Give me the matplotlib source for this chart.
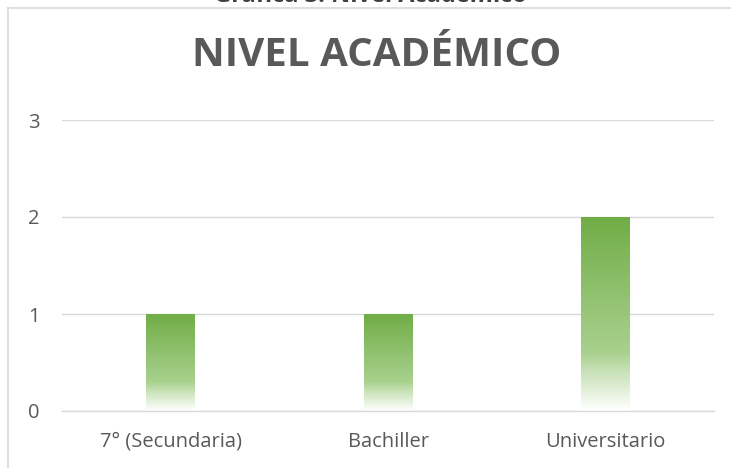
import numpy as np
import matplotlib
matplotlib.use("Agg")
import matplotlib.pyplot as plt
from matplotlib.colors import LinearSegmentedColormap
from matplotlib.lines import Line2D

categories = ["7° (Secundaria)", "Bachiller", "Universitario"]
values = [1, 1, 2]
yticks = [0, 1, 2, 3]
title = "NIVEL ACADÉMICO"
caption = "Gráfica 3: Nivel Académico"

plt.rcParams["font.family"] = ["Open Sans", "DejaVu Sans"]
grey_txt = "#595959"
grid_col = "#D9D9D9"

fig = plt.figure(figsize=(7.31, 4.68), dpi=100)
W, H = 731, 468
ax = fig.add_axes([62 / W, 1 - 411 / H, 652 / W, 291 / H])

# green -> white gradient, like the office fill
cmap = LinearSegmentedColormap.from_list(
    "fade", [(0.0, "#FFFFFF"), (0.2, "#C9E2B8"), (0.3, "#A9D18E"), (1.0, "#70AD47")])
grad = np.linspace(0, 1, 256).reshape(-1, 1)

bw = 0.225
for i, v in enumerate(values):
    ax.imshow(grad, cmap=cmap, origin="lower", aspect="auto",
              extent=(i - bw / 2, i + bw / 2, 0, v), zorder=3)

ax.set_xlim(-0.5, len(categories) - 0.5)
ax.set_ylim(0, 3)
ax.set_yticks(yticks)
ax.set_xticks(range(len(categories)))
ax.set_xticklabels(categories)
ax.grid(axis="y", color=grid_col, linewidth=1.0, zorder=0)
ax.set_axisbelow(True)
for s in ["top", "right", "left"]:
    ax.spines[s].set_visible(False)
ax.spines["bottom"].set_color(grid_col)
ax.spines["bottom"].set_linewidth(1.0)
ax.spines["bottom"].set_zorder(4)
ax.tick_params(length=0, colors=grey_txt, labelsize=14.5)
ax.tick_params(axis="y", pad=16)
ax.tick_params(axis="x", pad=15)

fig.text(377 / W, 1 - 56 / H, title, ha="center", va="center",
         fontsize=29, fontweight="bold", color=grey_txt)

# caption of the document, cut by the top edge
fig.text(370 / W, 1 - 2 / H, caption, ha="center", va="baseline",
         fontsize=17, fontweight="bold", color="#404040")

# chart frame, left and top edges only visible
fig.add_artist(Line2D([7.5 / W, 7.5 / W], [0, 1 - 7.5 / H],
                      transform=fig.transFigure, color=grid_col, lw=1.2))
fig.add_artist(Line2D([7.5 / W, 1], [1 - 7.5 / H, 1 - 7.5 / H],
                      transform=fig.transFigure, color=grid_col, lw=1.2))

fig.savefig("out.png", dpi=100)
